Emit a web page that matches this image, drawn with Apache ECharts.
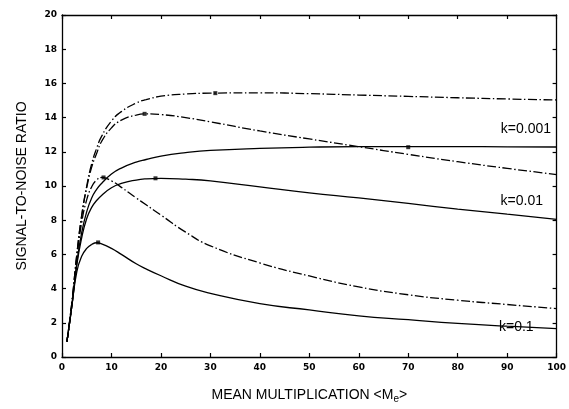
<!DOCTYPE html>
<html><head><meta charset="utf-8">
<script src="https://cdn.jsdelivr.net/npm/echarts@6/dist/echarts.min.js"></script>
<style>html,body{margin:0;padding:0;background:#fff}#c{width:569px;height:409px}</style>
</head><body><div id="c"></div>
<script>
// Common x positions (mean multiplication)
const xs = [1,2,3,4,5,6,7,8,10,12,15,17,20,25,30,40,50,60,70,80,90,100];
// k=0.001 (dash-dot, upper)
const aVals = [0.9,3.2,6.0,8.3,10.0,11.3,12.2,12.9,13.8,14.35,14.85,15.05,15.25,15.38,15.43,15.45,15.4,15.32,15.24,15.16,15.09,15.03];
// k=0.001 (dash-dot, lower)
const bVals = [0.9,3.2,6.0,8.3,9.9,11.1,11.9,12.6,13.4,13.85,14.15,14.22,14.18,14.0,13.75,13.22,12.75,12.3,11.85,11.42,11.03,10.67];
// k=0.001 (solid)
const cVals = [0.9,3.0,5.5,7.3,8.5,9.3,9.8,10.15,10.7,11.05,11.4,11.55,11.75,11.95,12.08,12.2,12.27,12.3,12.3,12.3,12.29,12.28];
// k=0.01 (solid)
const dVals = [0.9,3.0,5.4,7.0,8.1,8.75,9.15,9.45,9.9,10.15,10.35,10.42,10.45,10.4,10.3,9.95,9.6,9.3,8.98,8.65,8.35,8.05];
// dash-dot, lower
const eVals = [0.9,3.1,5.8,7.9,9.2,9.95,10.35,10.5,10.3,9.92,9.3,8.9,8.3,7.3,6.5,5.5,4.74,4.1,3.64,3.32,3.07,2.83];
// k=0.1 (solid)
const fVals = [0.9,3.0,5.0,5.9,6.35,6.58,6.68,6.62,6.35,6.0,5.45,5.15,4.75,4.14,3.72,3.12,2.75,2.4,2.18,1.97,1.8,1.66];
// Peak markers
const peakX = [31, 16.7, 70, 18.9, 8.4, 7.3];
const peakY = [15.43, 14.22, 12.27, 10.45, 10.5, 6.7];
// Tick labels / annotations
const xTicks = [0,10,20,30,40,50,60,70,80,90,100];
const yTicks = [0,2,4,6,8,10,12,14,16,18,20];
const kLabels = ['k=0.001','k=0.01','k=0.1'];

const chart = echarts.init(document.getElementById('c'), null, {renderer:'canvas'});
const dashDot = [9,2.5,1.5,2.5];
function line(vals, dashed){
  return {type:'line', data: xs.map((x,i)=>[x, vals[i]]), smooth:0.5,
    showSymbol:false, symbol:'none', silent:true, animation:false, z:3,
    lineStyle:{color:'#000', width:1.3, type: dashed ? dashDot : 'solid'}};
}
const tickFont = {fontFamily:'DejaVu Sans', fontWeight:'bold', fontSize:9, color:'#000'};
const axLine = {show:true, onZero:false, lineStyle:{color:'#000', width:1.3}};
const tick = {show:true, inside:true, length:4, lineStyle:{color:'#000', width:1.2}};
chart.setOption({
  backgroundColor:'#fff',
  animation:false,
  grid:{left:62, right:9, top:15, bottom:39.5},
  xAxis:[{type:'value', min:0, max:100, interval:10, position:'bottom',
    axisLine:axLine, axisTick:tick,
    axisLabel:Object.assign({margin:6, formatter:v=>xTicks.includes(v)?String(v):''}, tickFont),
    splitLine:{show:false},
    name:'{a|MEAN MULTIPLICATION <M}{s|e}{a|>}', nameLocation:'middle', nameGap:30,
    nameTextStyle:{rich:{
      a:{fontFamily:'Liberation Sans', fontSize:14, color:'#000'},
      s:{fontFamily:'Liberation Sans', fontSize:10, color:'#000', padding:[7,0,0,0]}}}},
   {type:'value', min:0, max:100, interval:10, position:'top',
    axisLine:axLine, axisTick:tick,
    axisLabel:{show:false}, splitLine:{show:false}}],
  yAxis:[{type:'value', min:0, max:20, interval:2, position:'left',
    axisLine:axLine, axisTick:tick,
    axisLabel:Object.assign({margin:5, formatter:v=>yTicks.includes(v)?String(v):''}, tickFont),
    splitLine:{show:false},
    name:'SIGNAL-TO-NOISE RATIO', nameLocation:'middle', nameGap:33, nameRotate:90,
    nameTextStyle:{fontFamily:'Liberation Sans', fontSize:14, color:'#000'}},
   {type:'value', min:0, max:20, interval:2, position:'right',
    axisLine:axLine, axisTick:tick,
    axisLabel:{show:false}, splitLine:{show:false}}],
  series:[
    line(aVals,true), line(bVals,true), line(cVals,false),
    line(dVals,false), line(eVals,true), line(fVals,false),
    {type:'scatter', data: peakX.map((x,i)=>[x, peakY[i]]), symbol:'rect', symbolSize:4,
     itemStyle:{color:'#000'}, silent:true, z:4}
  ],
  graphic:[
    {type:'text', right:18, top:122, style:{text:kLabels[0], font:'14px "Liberation Sans"', fill:'#000'}},
    {type:'text', right:26, top:194, style:{text:kLabels[1], font:'14px "Liberation Sans"', fill:'#000'}},
    {type:'text', left:499, top:320, style:{text:kLabels[2], font:'14px "Liberation Sans"', fill:'#000'}}
  ]
});
</script></body></html>
